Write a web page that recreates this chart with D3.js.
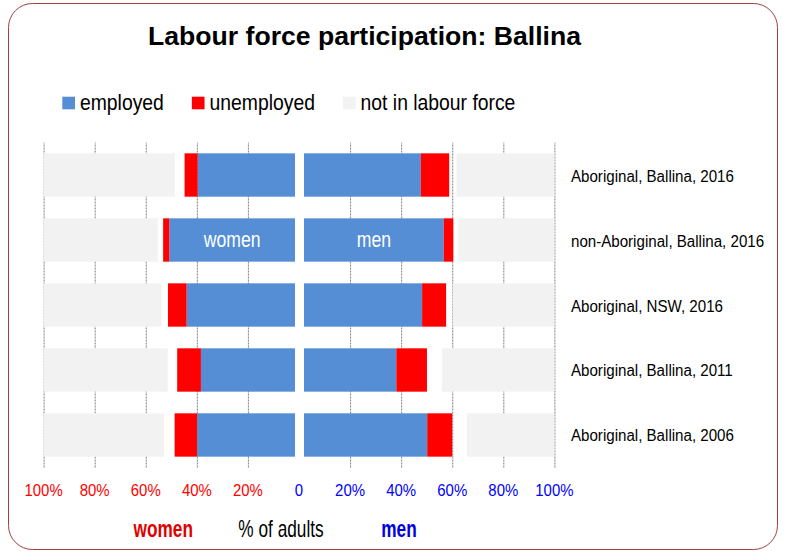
<!DOCTYPE html>
<html>
<head>
<meta charset="utf-8">
<script src="https://cdn.jsdelivr.net/npm/d3@7"></script>
<style>
  body { margin: 0; background: #fff; }
  text { font-family: "Liberation Sans", Arial, sans-serif; }
</style>
</head>
<body>
<svg id="chart" width="786" height="551"></svg>
<script>
// rows, top to bottom
const rows = ["Aboriginal, Ballina, 2016", "non-Aboriginal, Ballina, 2016", "Aboriginal, NSW, 2016",
              "Aboriginal, Ballina, 2011", "Aboriginal, Ballina, 2006"];

// % of adults
const womenEmployed   = [39.7, 50.8, 44.0, 38.4, 39.9];
const womenUnemployed = [5.1, 2.4, 7.3, 9.3, 8.8];
const womenNotInLF    = [51.4, 44.7, 46.2, 48.6, 47.1];
const menEmployed     = [47.7, 56.7, 48.2, 38.1, 50.2];
const menUnemployed   = [11.1, 3.7, 9.4, 12.0, 9.8];
const menNotInLF      = [38.3, 37.6, 39.8, 44.0, 34.3];

const legendItems = ["employed", "unemployed", "not in labour force"];
const tickValues = [0, 20, 40, 60, 80, 100];

const colors = { employed: "#558ed5", unemployed: "#ff0000", notInLF: "#f2f2f2" };

const svg = d3.select("#chart");

// narrow-looking text: horizontal squeeze
const label = (parent, x, y, str, opts) => {
    const o = Object.assign({ size: 16, weight: "normal", fill: "#000", anchor: "start", sx: 1 }, opts);
    return parent.append("text")
        .attr("transform", `translate(${x},${y}) scale(${o.sx},1)`)
        .attr("text-anchor", o.anchor)
        .style("font-size", o.size + "px")
        .style("font-weight", o.weight)
        .style("fill", o.fill)
        .text(str);
}

// frame
svg.append("rect")
    .attr("x", 8.5).attr("y", 3.5)
    .attr("width", 769).attr("height", 546)
    .attr("rx", 24)
    .attr("fill", "#fff")
    .attr("stroke", "#a0403f")
    .attr("stroke-width", 1);

label(svg, 364.5, 44.5, "Labour force participation: Ballina", { size: 26.6, weight: "bold", anchor: "middle" });

// legend
const legendColors = [colors.employed, colors.unemployed, colors.notInLF];
let legendX = 62.3;
legendItems.forEach((item, i) => {
    svg.append("rect")
        .attr("x", legendX).attr("y", 96.7)
        .attr("width", 12.7).attr("height", 12.6)
        .attr("fill", legendColors[i]);
    const t = label(svg, legendX + 17.7, 110, item, { size: 21.5, sx: 0.9 });
    legendX += 17.7 + t.node().getComputedTextLength() * 0.9 + 28;
});

// scales
const center = 299;
const xW = d3.scaleLinear().domain([0, 100]).range([center, 43.6]);
const xM = d3.scaleLinear().domain([0, 100]).range([center, 554.4]);
const y = d3.scaleBand().domain(rows).range([142.5, 467.5]).paddingInner(0.333).paddingOuter(0.1667);
const gapW = 4, gapM = 5;

// gridlines
const gridTop = 142.5, gridBottom = 467.5;
[xW, xM].forEach(scale => {
    svg.append("g")
        .attr("transform", `translate(0,${gridBottom})`)
        .call(d3.axisBottom(scale).tickValues(tickValues.slice(1)).tickSize(-(gridBottom - gridTop)).tickFormat(""))
        .call(g => g.select(".domain").remove())
        .call(g => g.selectAll(".tick line")
            .attr("stroke", "#7f7f7f")
            .attr("stroke-dasharray", "2,1"));
});

// bars
const bars = svg.append("g");
rows.forEach((row, i) => {
    const y0 = y(row), h = y.bandwidth();
    // women
    bars.append("rect").attr("x", xW(womenEmployed[i])).attr("y", y0)
        .attr("width", xW(0) - gapW - xW(womenEmployed[i])).attr("height", h).attr("fill", colors.employed);
    bars.append("rect").attr("x", xW(womenEmployed[i] + womenUnemployed[i])).attr("y", y0)
        .attr("width", xW(womenEmployed[i]) - xW(womenEmployed[i] + womenUnemployed[i])).attr("height", h).attr("fill", colors.unemployed);
    bars.append("rect").attr("x", xW(100)).attr("y", y0)
        .attr("width", xW(100 - womenNotInLF[i]) - xW(100)).attr("height", h).attr("fill", colors.notInLF);
    // men
    bars.append("rect").attr("x", xM(0) + gapM).attr("y", y0)
        .attr("width", xM(menEmployed[i]) - xM(0) - gapM).attr("height", h).attr("fill", colors.employed);
    bars.append("rect").attr("x", xM(menEmployed[i])).attr("y", y0)
        .attr("width", xM(menEmployed[i] + menUnemployed[i]) - xM(menEmployed[i])).attr("height", h).attr("fill", colors.unemployed);
    bars.append("rect").attr("x", xM(100 - menNotInLF[i])).attr("y", y0)
        .attr("width", xM(100) - xM(100 - menNotInLF[i])).attr("height", h).attr("fill", colors.notInLF);

    label(svg, 571, y0 + h / 2 + 6.5, row, { size: 16, sx: 0.945 });
});

// labels inside the second row
const y2 = y(rows[1]) + y.bandwidth() / 2 + 6.5;
label(svg, (xW(womenEmployed[1]) + xW(0) - gapW) / 2, y2, "women", { size: 22, sx: 0.8, fill: "#fff", anchor: "middle" });
label(svg, (xM(0) + gapM + xM(menEmployed[1])) / 2, y2, "men", { size: 22, sx: 0.8, fill: "#fff", anchor: "middle" });

// tick labels
const tickLabel = d => d === 0 ? "0" : d + "%";
tickValues.slice(1).forEach(v => label(svg, xW(v), 495.7, tickLabel(v), { size: 17, sx: 0.88, fill: "#ff0000", anchor: "middle" }));
tickValues.forEach(v => label(svg, xM(v), 495.7, tickLabel(v), { size: 17, sx: 0.88, fill: "#0000ff", anchor: "middle" }));

// axis titles
label(svg, 163.3, 536.7, "women", { size: 23, weight: "bold", sx: 0.75, fill: "#e00000", anchor: "middle" });
label(svg, 281, 536.7, "% of adults", { size: 23, sx: 0.75, anchor: "middle" });
label(svg, 399, 536.7, "men", { size: 23, weight: "bold", sx: 0.75, fill: "#0000e0", anchor: "middle" });
</script>
</body>
</html>
